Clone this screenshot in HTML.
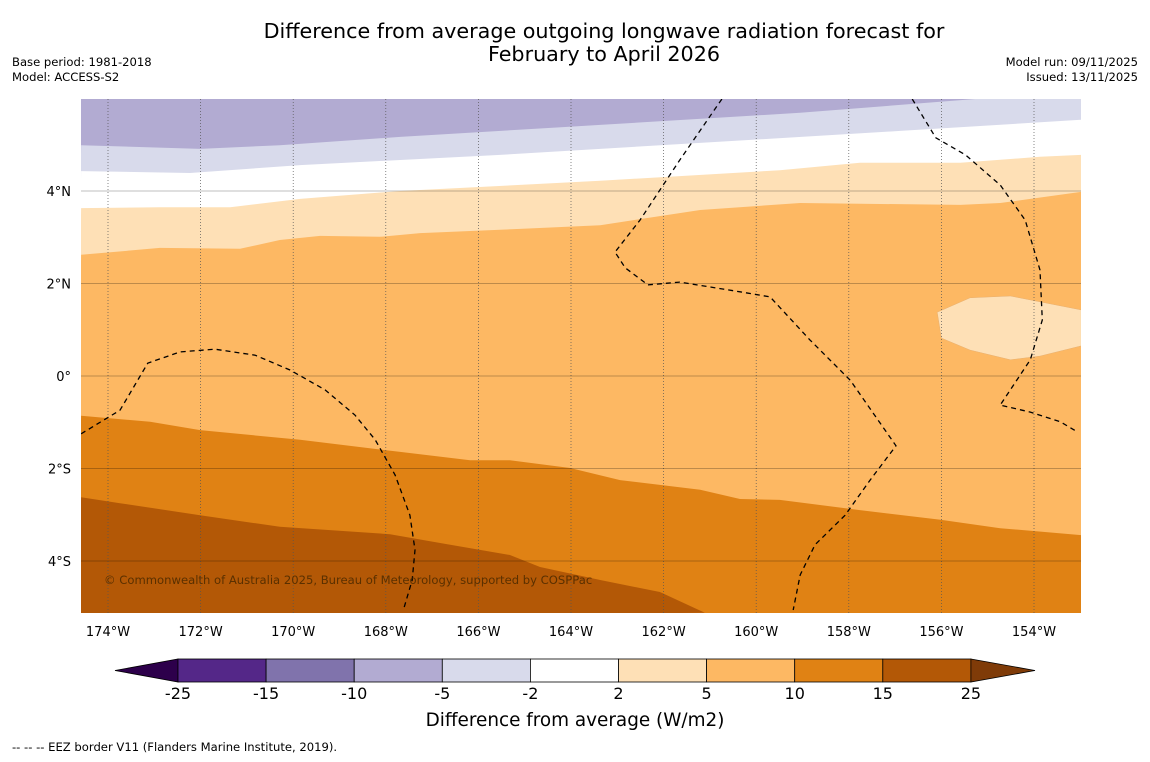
<!DOCTYPE html>
<html><head><meta charset="utf-8"><style>
body{margin:0;background:#fff;width:1150px;height:758px;overflow:hidden;font-family:"DejaVu Sans","Liberation Sans",sans-serif}
svg text{font-family:"DejaVu Sans","Liberation Sans",sans-serif}
</style></head><body>
<svg width="1150" height="758" viewBox="0 0 1150 758" xmlns="http://www.w3.org/2000/svg">
<defs><clipPath id="mc"><rect x="81" y="99" width="1000" height="514"/></clipPath></defs>
<text x="604" y="38" text-anchor="middle" font-size="20.7" fill="#000">Difference from average outgoing longwave radiation forecast for</text>
<text x="604" y="61" text-anchor="middle" font-size="20.7" fill="#000">February to April 2026</text>
<text x="12" y="66" font-size="11.6">Base period: 1981-2018</text>
<text x="12" y="81" font-size="11.6">Model: ACCESS-S2</text>
<text x="1138" y="66" font-size="11.6" text-anchor="end">Model run: 09/11/2025</text>
<text x="1138" y="81" font-size="11.6" text-anchor="end">Issued: 13/11/2025</text>
<g id="map" clip-path="url(#mc)"></g>
<g id="grid"></g>
<g id="eez" clip-path="url(#mc)"></g>
<text x="104" y="584" font-size="11.6" fill="#5a3000">© Commonwealth of Australia 2025, Bureau of Meteorology, supported by COSPPac</text>
<g id="axes"></g>
<g id="cbar"></g>
<text x="575" y="726" text-anchor="middle" font-size="18.4">Difference from average (W/m2)</text>
<text x="12" y="751" font-size="11.6">--  --  -- EEZ border V11 (Flanders Marine Institute, 2019).</text>
</svg>
<script>
const lonTicks=[-174,-172,-170,-168,-166,-164,-162,-160,-158,-156,-154];
const latTicks=[4,2,0,-2,-4];
// contour boundaries (lon, lat)
const b1Lon=[-174.58,-172.01,-170.29,-167.69,-163.37,-159.05,-155.27];
const b1Lat=[4.99,4.91,4.99,5.17,5.43,5.69,5.99];
const b2Lon=[-174.58,-172.23,-169.85,-165.53,-161.21,-156.89,-152.98];
const b2Lat=[4.43,4.39,4.56,4.78,5.04,5.30,5.54];
const b3Lon=[-174.58,-172.88,-171.36,-169.85,-167.69,-163.37,-159.49,-157.76,-155.59,-153.87,-152.98];
const b3Lat=[3.63,3.65,3.65,3.83,4.0,4.22,4.45,4.61,4.61,4.74,4.78];
const b4Lon=[-174.58,-172.88,-171.15,-170.29,-169.42,-168.13,-167.26,-165.10,-163.37,-161.21,-159.05,-155.59,-154.73,-152.98];
const b4Lat=[2.62,2.77,2.75,2.94,3.03,3.01,3.09,3.18,3.26,3.59,3.74,3.70,3.74,3.98];
const blobLon=[-156.09,-155.38,-154.51,-152.98,-152.98,-153.87,-154.51,-155.38,-156.0];
const blobLat=[1.38,1.69,1.73,1.43,0.65,0.43,0.35,0.56,0.82];
const b5Lon=[-174.58,-173.09,-172.01,-169.85,-167.69,-166.18,-165.32,-164.02,-162.94,-161.21,-160.35,-159.49,-157.76,-156.02,-154.73,-152.98];
const b5Lat=[-0.86,-0.99,-1.17,-1.38,-1.64,-1.82,-1.82,-1.99,-2.25,-2.46,-2.66,-2.68,-2.90,-3.11,-3.29,-3.44];
const b6Lon=[-174.58,-173.74,-172.01,-170.29,-167.91,-166.61,-165.32,-164.67,-163.37,-162.08,-161.11];
const b6Lat=[-2.62,-2.75,-3.01,-3.26,-3.42,-3.65,-3.87,-4.13,-4.41,-4.67,-5.12];
const eezALon=[-160.74,-161.65,-162.51,-163.05,-162.83,-162.34,-161.65,-160.35,-159.70,-158.84,-157.97,-156.98,-157.54,-158.08,-158.73,-159.05,-159.20];
const eezALat=[5.99,4.67,3.37,2.68,2.34,1.97,2.03,1.82,1.71,0.78,-0.09,-1.51,-2.25,-3.01,-3.65,-4.30,-5.06];
const eezBLon=[-156.63,-156.12,-155.48,-154.73,-154.19,-153.87,-153.82,-154.08,-154.73,-154.08,-153.43,-153.06];
const eezBLat=[5.99,5.15,4.78,4.13,3.37,2.29,1.21,0.35,-0.63,-0.78,-0.99,-1.21];
const eezCLon=[-174.58,-173.74,-173.14,-172.44,-171.69,-170.82,-170.07,-169.31,-168.67,-168.23,-167.80,-167.48,-167.37,-167.43,-167.61];
const eezCLat=[-1.25,-0.74,0.28,0.52,0.58,0.45,0.13,-0.30,-0.84,-1.38,-2.14,-3.01,-3.76,-4.41,-5.02];
const cbLevels=["-25","-15","-10","-5","-2","2","5","10","15","25"];
const cbColors=["#542788","#8073ac","#b2abd2","#d8daeb","#ffffff","#fee0b6","#fdb863","#e08214","#b35806"];

const NS="http://www.w3.org/2000/svg";
const X=lon=>108+(lon+174)*46.3;
const Y=lat=>376-lat*46.25;
const L=81,R=1081,T=99,B=613;
function mk(tag,attrs,parent){const e=document.createElementNS(NS,tag);for(const k in attrs)e.setAttribute(k,attrs[k]);parent.appendChild(e);return e;}
function pts(lo,la){return lo.map((v,i)=>X(v).toFixed(1)+","+Y(la[i]).toFixed(1));}
const map=document.getElementById('map');
let r=mk('rect',{x:L,y:T,width:R-L,height:B-T,fill:"#b2abd2"},map);


function below(lo,la,fill,name,extra){
  const p=pts(lo,la);
  let tail=extra||[];
  const poly=p.concat(tail).concat([R+5+","+(B+5),(L-5)+","+(B+5)]);
  const e=mk('polygon',{points:poly.join(" "),fill:fill},map);
  
  
}
below(b1Lon,b1Lat,"#d8daeb","band-minus5-minus2",[(R+5)+","+(T-5)]);
below(b2Lon,b2Lat,"#ffffff","band-minus2-2");
below(b3Lon,b3Lat,"#fee0b6","band-2-5");
below(b4Lon,b4Lat,"#fdb863","band-5-10");
let bl=mk('polygon',{points:pts(blobLon,blobLat).join(" "),fill:"#fee0b6",stroke:"#e8b070","stroke-width":0.5},map);


below(b5Lon,b5Lat,"#e08214","band-10-15");
let p6=pts(b6Lon,b6Lat).concat([(L-5)+","+(B+5)]);
let e6=mk('polygon',{points:p6.join(" "),fill:"#b35806"},map);



const grid=document.getElementById('grid');
const axes=document.getElementById('axes');
lonTicks.forEach(v=>{
  const x=X(v);
  let g=mk('line',{x1:x,x2:x,y1:T,y2:B,stroke:"#555","stroke-width":0.7,"stroke-dasharray":"1,2"},grid);
  
  
  let t=mk('text',{x:x,y:636,"text-anchor":"middle","font-size":13},axes);
  t.textContent=Math.abs(v)+"°W";
  
  
});
latTicks.forEach(v=>{
  const y=Y(v);
  let g=mk('line',{x1:L,x2:R,y1:y,y2:y,stroke:"#000","stroke-opacity":0.25,"stroke-width":1},grid);
  
  
  let t=mk('text',{x:71,y:y+5,"text-anchor":"end","font-size":13},axes);
  t.textContent=v===0?"0°":Math.abs(v)+"°"+(v>0?"N":"S");
  
  
});
const eez=document.getElementById('eez');
[[eezALon,eezALat],[eezBLon,eezBLat],[eezCLon,eezCLat]].forEach(a=>{
  let l=mk('polyline',{points:pts(a[0],a[1]).join(" "),fill:"none",stroke:"#000","stroke-width":1.3,"stroke-dasharray":"5,4"},eez);
  
  
});
const cb=document.getElementById('cbar');
const cx0=178,cw=88.1,cy=659,ch=23;
let lt=mk('polygon',{points:`115,670.5 ${cx0},${cy} ${cx0},${cy+ch}`,fill:"#2d004b",stroke:"#000","stroke-width":0.8},cb);


cbColors.forEach((c,i)=>{
  let b=mk('rect',{x:cx0+i*cw,y:cy,width:cw,height:ch,fill:c,stroke:"#000","stroke-width":0.8},cb);
  
  
});
const cx1=cx0+cbColors.length*cw;
let rt=mk('polygon',{points:`${cx1},${cy} 1035,670.5 ${cx1},${cy+ch}`,fill:"#7f3b08",stroke:"#000","stroke-width":0.8},cb);


cbLevels.forEach((s,i)=>{
  let t=mk('text',{x:cx0+i*cw,y:699,"text-anchor":"middle","font-size":16},cb);
  t.textContent=s;
  
  
});
</script>
</body></html>
